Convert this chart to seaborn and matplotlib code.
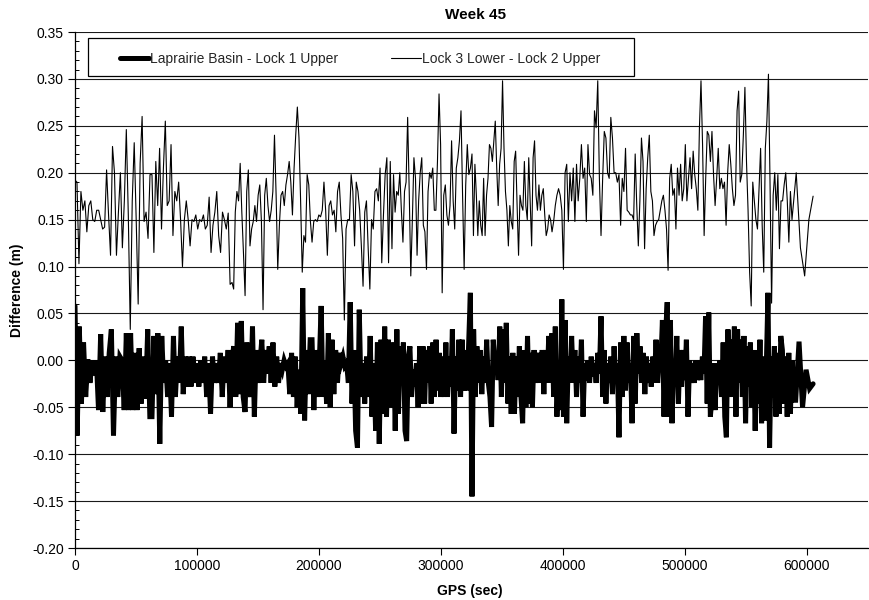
import numpy as np
import pandas as pd
import matplotlib
matplotlib.use("Agg")
import matplotlib.pyplot as plt
import seaborn as sns
from matplotlib.patches import Rectangle
from matplotlib.ticker import FixedLocator, MultipleLocator, FuncFormatter

sns.set_theme(style="white")
plt.rcParams["font.family"] = ["Liberation Sans", "DejaVu Sans"]
plt.rcParams["axes.unicode_minus"] = False

title = "Week 45"
x_label = "GPS (sec)"
y_label = "Difference (m)"
thick_name = "Laprairie Basin - Lock 1 Upper"
thin_name = "Lock 3 Lower - Lock 2 Upper"

x_ticks = [0, 100000, 200000, 300000, 400000, 500000, 600000]
y_ticks = [-0.20, -0.15, -0.10, -0.05, 0.00, 0.05, 0.10, 0.15, 0.20, 0.25, 0.30, 0.35]

# GPS time boundaries of the read-off segments (sec)
segment_edges = [0, 63100, 128700, 194300, 259800, 325400, 391000, 456600, 522100, 587700, 605000]

# Lock 3 Lower - Lock 2 Upper (m), per segment
thin_s0 = [0.192, 0.19, 0.103, 0.18, 0.16, 0.17, 0.137, 0.165, 0.17, 0.15, 0.148, 0.16, 0.16, 0.15, 0.14,
           0.142, 0.203, 0.155, 0.112, 0.228, 0.20, 0.112, 0.158, 0.20, 0.12, 0.17, 0.246, 0.155, 0.033,
           0.17, 0.232, 0.15, 0.06, 0.21, 0.26, 0.148, 0.158, 0.13, 0.198]
thin_s1 = [0.198, 0.115, 0.212, 0.165, 0.226, 0.14, 0.205, 0.255, 0.165, 0.17, 0.23, 0.133, 0.18, 0.17,
           0.19, 0.15, 0.10, 0.15, 0.17, 0.15, 0.122, 0.15, 0.148, 0.155, 0.14, 0.15, 0.148, 0.155, 0.14,
           0.144, 0.174, 0.115, 0.144, 0.158, 0.18, 0.133, 0.115, 0.158, 0.15, 0.14, 0.157, 0.081]
thin_s2 = [0.083, 0.076, 0.158, 0.18, 0.17, 0.21, 0.158, 0.115, 0.069, 0.18, 0.203, 0.122, 0.14, 0.148,
           0.165, 0.148, 0.176, 0.187, 0.148, 0.054, 0.176, 0.194, 0.165, 0.148, 0.16, 0.18, 0.24, 0.176,
           0.097, 0.144, 0.176, 0.18, 0.165, 0.187, 0.198, 0.212, 0.19, 0.155, 0.205, 0.24, 0.27, 0.237,
           0.17, 0.094, 0.133, 0.126, 0.198, 0.187, 0.148]
thin_s3 = [0.126, 0.148, 0.15, 0.148, 0.155, 0.153, 0.16, 0.19, 0.16, 0.112, 0.165, 0.17, 0.155, 0.16,
           0.137, 0.18, 0.19, 0.155, 0.13, 0.043, 0.14, 0.15, 0.15, 0.198, 0.18, 0.122, 0.19, 0.18, 0.16,
           0.122, 0.079, 0.158, 0.17, 0.12, 0.076, 0.15, 0.14, 0.18, 0.183, 0.17, 0.205, 0.104, 0.155,
           0.198, 0.216, 0.104, 0.212]
thin_s4 = [0.119, 0.198, 0.158, 0.18, 0.176, 0.20, 0.16, 0.126, 0.18, 0.19, 0.259, 0.18, 0.09, 0.15,
           0.216, 0.194, 0.112, 0.17, 0.20, 0.216, 0.144, 0.137, 0.097, 0.18, 0.20, 0.194, 0.205, 0.16,
           0.16, 0.212, 0.284, 0.23, 0.072, 0.176, 0.187, 0.155, 0.144, 0.165, 0.234, 0.17, 0.14, 0.205,
           0.216, 0.234, 0.266, 0.176, 0.097, 0.187, 0.23, 0.198, 0.205]
thin_s5 = [0.22, 0.133, 0.209, 0.176, 0.133, 0.17, 0.144, 0.133, 0.194, 0.133, 0.176, 0.194, 0.23, 0.226,
           0.212, 0.234, 0.255, 0.205, 0.165, 0.209, 0.226, 0.298, 0.226, 0.18, 0.16, 0.122, 0.165, 0.148,
           0.14, 0.212, 0.223, 0.165, 0.112, 0.176, 0.165, 0.16, 0.212, 0.165, 0.15, 0.216, 0.17, 0.122,
           0.216, 0.234, 0.176, 0.16, 0.187, 0.16, 0.176, 0.183, 0.155, 0.133, 0.14, 0.155, 0.15]
thin_s6 = [0.137, 0.148, 0.165, 0.176, 0.183, 0.176, 0.16, 0.097, 0.20, 0.209, 0.148, 0.20, 0.17, 0.205,
           0.148, 0.209, 0.17, 0.194, 0.23, 0.194, 0.205, 0.148, 0.23, 0.198, 0.194, 0.176, 0.266, 0.248,
           0.298, 0.194, 0.133, 0.194, 0.244, 0.237, 0.20, 0.194, 0.259, 0.237, 0.20, 0.20, 0.19, 0.198,
           0.144, 0.194, 0.18, 0.226, 0.16, 0.158, 0.155]
thin_s7 = [0.155, 0.15, 0.22, 0.165, 0.122, 0.17, 0.237, 0.212, 0.119, 0.183, 0.216, 0.24, 0.18, 0.17,
           0.133, 0.144, 0.148, 0.15, 0.16, 0.17, 0.176, 0.16, 0.14, 0.096, 0.194, 0.209, 0.176, 0.183,
           0.14, 0.205, 0.176, 0.209, 0.17, 0.183, 0.23, 0.17, 0.194, 0.216, 0.183, 0.223, 0.198, 0.183,
           0.16, 0.248, 0.298, 0.23, 0.133, 0.194, 0.244, 0.24, 0.212]
thin_s8 = [0.244, 0.198, 0.165, 0.194, 0.226, 0.183, 0.194, 0.183, 0.19, 0.144, 0.20, 0.23, 0.209, 0.183,
           0.165, 0.176, 0.266, 0.287, 0.19, 0.198, 0.24, 0.291, 0.212, 0.16, 0.094, 0.058, 0.19, 0.17,
           0.15, 0.14, 0.183, 0.226, 0.144, 0.094, 0.226, 0.255, 0.305, 0.19, 0.061, 0.176, 0.20, 0.16,
           0.198, 0.119, 0.17, 0.17, 0.187, 0.20, 0.17, 0.126, 0.18]
thin_s9 = [0.15, 0.20, 0.12, 0.09, 0.15, 0.175]

# Laprairie Basin - Lock 1 Upper (m), per segment
thick_s0 = [0.058, -0.08, 0.036, -0.046, 0.019, -0.039, 0.001, -0.024, 0.0, -0.016, 0.0, -0.053, 0.028,
            -0.055, 0.004, -0.039, 0.008, 0.033, -0.08, 0.004, -0.039, 0.004, 0.0, -0.053, 0.029, -0.053,
            0.029, -0.053, 0.008, -0.053, 0.013, -0.046, 0.004, -0.041, 0.033, -0.06]
thick_s1 = [-0.06, 0.026, -0.036, 0.029, -0.089, 0.026, -0.024, 0.0, -0.039, -0.003, -0.06, 0.026, -0.039,
            0.004, -0.024, 0.036, -0.036, 0.004, -0.028, 0.004, -0.028, 0.004, -0.024, -0.003, -0.028, 0.0,
            -0.024, 0.004, -0.039, -0.003, -0.057, 0.004, -0.024, -0.003, -0.024, 0.008, -0.039, 0.004,
            -0.024, 0.011, -0.05]
thick_s2 = [0.004, 0.015, -0.039, 0.04, -0.036, 0.042, -0.039, -0.055, 0.019, -0.024, -0.039, 0.036, -0.06,
            0.011, -0.024, -0.003, 0.022, -0.024, 0.011, -0.014, 0.015, -0.024, 0.019, -0.028, 0.004, -0.024,
            -0.003, -0.010, 0.0, -0.006, -0.003, -0.036, 0.008, -0.039, 0.004, -0.05, -0.010, -0.057, 0.077,
            -0.064, 0.011, -0.036, 0.022]
thick_s3 = [0.022, -0.053, 0.011, -0.039, -0.003, 0.058, -0.039, 0.0, -0.046, 0.029, -0.05, 0.022, -0.036,
            0.011, -0.024, 0.008, -0.003, 0.004, -0.006, -0.003, -0.024, 0.062, -0.046, 0.011, -0.075,
            -0.093, 0.054, -0.039, -0.003, -0.046, 0.004, -0.039, 0.026, -0.06, -0.003, -0.075, 0.019,
            -0.089, 0.022, -0.057, 0.036, -0.06, 0.022, -0.05]
thick_s4 = [-0.039, 0.019, -0.075, 0.033, -0.057, 0.015, -0.024, 0.019, -0.075, -0.086, 0.004, 0.015,
            -0.039, -0.01, -0.028, -0.003, -0.05, 0.015, -0.046, 0.015, -0.046, 0.011, -0.024, 0.015,
            -0.046, 0.019, -0.039, 0.022, -0.032, 0.008, -0.039, 0.004, -0.039, 0.019, -0.039, 0.004,
            -0.028, 0.033, -0.078, 0.004, -0.032, 0.022, -0.039, 0.022, -0.032, 0.011, -0.032, 0.019, 0.072]
thick_s5 = [-0.145, 0.033, -0.039, 0.015, -0.024, 0.011, -0.036, 0.004, -0.024, 0.022, -0.024, -0.039,
            -0.071, 0.022, -0.003, 0.008, -0.021, 0.036, -0.039, 0.033, -0.024, 0.04, -0.046, 0.004, -0.057,
            0.008, -0.057, 0.004, -0.039, 0.015, -0.039, -0.067, 0.011, -0.05, 0.026, -0.046, 0.008, -0.05,
            0.011, -0.024, -0.003, 0.008, -0.024, 0.011, -0.036, 0.011, -0.024, 0.026, -0.024]
thick_s6 = [0.029, -0.039, 0.036, -0.06, -0.01, -0.053, 0.065, -0.06, 0.043, -0.067, 0.004, -0.024, 0.026,
            -0.024, 0.011, -0.039, 0.004, -0.024, 0.022, -0.06, -0.003, -0.021, 0.0, -0.024, 0.004, -0.017,
            -0.003, -0.024, 0.008, -0.014, 0.047, -0.039, 0.011, -0.046, -0.003, -0.024, 0.004, -0.036,
            0.015, -0.024, -0.003, -0.082, 0.019, -0.039, 0.026, -0.032, 0.019, -0.024, -0.003]
thick_s7 = [-0.067, 0.026, -0.046, 0.029, -0.014, 0.015, -0.024, 0.008, -0.036, 0.004, -0.024, -0.003,
            -0.028, 0.004, -0.024, 0.022, -0.024, 0.004, -0.003, 0.043, -0.06, 0.029, 0.062, -0.06, 0.043,
            -0.067, -0.003, -0.024, 0.026, -0.046, 0.011, -0.028, 0.011, -0.021, 0.022, -0.06, 0.0, -0.024,
            -0.003, -0.024, 0.0, -0.021, 0.0, -0.021, 0.004, -0.014, 0.047, -0.046, 0.051, -0.06]
thick_s8 = [-0.039, -0.003, -0.053, -0.003, -0.024, 0.0, -0.039, 0.019, -0.06, -0.082, 0.033, -0.039, 0.022,
            -0.039, 0.036, -0.06, 0.033, -0.024, 0.022, -0.039, 0.026, -0.067, 0.015, -0.028, 0.019, -0.05,
            0.011, -0.075, 0.011, -0.046, 0.022, -0.067, 0.004, -0.064, -0.003, 0.072, -0.093, 0.004, -0.039,
            0.015, -0.06, 0.008, -0.057, 0.026, 0.011, -0.046, 0.004, -0.06, 0.008, -0.057]
thick_s9 = [0.0, -0.045, 0.02, -0.05, -0.01, -0.03, -0.025]

thin_segments = [thin_s0, thin_s1, thin_s2, thin_s3, thin_s4, thin_s5, thin_s6, thin_s7, thin_s8, thin_s9]
thick_segments = [thick_s0, thick_s1, thick_s2, thick_s3, thick_s4, thick_s5, thick_s6, thick_s7, thick_s8, thick_s9]


def build(segments, name):
    t_all, v_all = [], []
    for i, seg in enumerate(segments):
        last = i == len(segments) - 1
        t = np.linspace(segment_edges[i], segment_edges[i + 1], len(seg), endpoint=last)
        t_all.extend(t)
        v_all.extend(seg)
    return pd.DataFrame({"gps": t_all, "diff": v_all, "series": name})


df_thick = build(thick_segments, thick_name)
df_thin = build(thin_segments, thin_name)

W, H = 869, 600
fig = plt.figure(figsize=(W / 100, H / 100), dpi=100)
ax_l, ax_r, ax_t, ax_b = 75, 868, 32, 548
ax = fig.add_axes([ax_l / W, 1 - ax_b / H, (ax_r - ax_l) / W, (ax_b - ax_t) / H])

sns.lineplot(data=df_thick, x="gps", y="diff", ax=ax, color="black", linewidth=3.6,
             sort=False, estimator=None, label=thick_name, solid_joinstyle="miter")
sns.lineplot(data=df_thin, x="gps", y="diff", ax=ax, color="black", linewidth=0.8,
             sort=False, estimator=None, label=thin_name)

ax.set_xlim(0, 650000)
ax.set_ylim(-0.20, 0.35)
ax.set_facecolor("white")
ax.xaxis.set_major_locator(FixedLocator(x_ticks))
ax.yaxis.set_major_locator(FixedLocator(y_ticks))
ax.yaxis.set_minor_locator(MultipleLocator(0.01))
ax.xaxis.set_major_formatter(FuncFormatter(lambda v, p: f"{int(round(v))}"))
ax.yaxis.set_major_formatter(FuncFormatter(lambda v, p: f"{v:.2f}"))
for y in y_ticks:
    ax.axhline(y, color="#1a1a1a", linewidth=0.8, zorder=0.5)
ax.grid(False)
for s in ["top", "right"]:
    ax.spines[s].set_visible(False)
for s in ["left", "bottom"]:
    ax.spines[s].set_color("black")
    ax.spines[s].set_linewidth(0.9)
ax.tick_params(axis="both", which="major", direction="out", length=5, width=0.8,
               color="black", labelsize=10, labelcolor="black", left=True, bottom=True, pad=3)
ax.tick_params(axis="y", which="minor", direction="in", length=3, width=0.7, color="black", left=True)
ax.set_xlabel("")
ax.set_ylabel("")

leg = ax.legend(loc="center left", bbox_to_anchor=(113 / W, 1 - 59 / H), bbox_transform=fig.transFigure,
                ncol=2, frameon=False, borderpad=0, handlelength=2.1, handletextpad=0.1,
                columnspacing=3.8, fontsize=10)
fig.patches.append(Rectangle((88 / W, 1 - 76 / H), (634 - 88) / W, (76 - 38) / H,
                             transform=fig.transFigure, facecolor="none", edgecolor="black",
                             linewidth=0.9, zorder=5))

fig.text(476 / W, 1 - 15 / H, title, ha="center", va="center",
         fontsize=11, fontweight="bold", color="black")
fig.text(470 / W, 1 - 591 / H, x_label, ha="center", va="center",
         fontsize=10, fontweight="bold", color="black")
fig.text(17 / W, 1 - ((ax_t + ax_b) / 2) / H, y_label, ha="center", va="center", rotation=90,
         fontsize=10, fontweight="bold", color="black")

fig.savefig("out.png", dpi=100, facecolor="white")
